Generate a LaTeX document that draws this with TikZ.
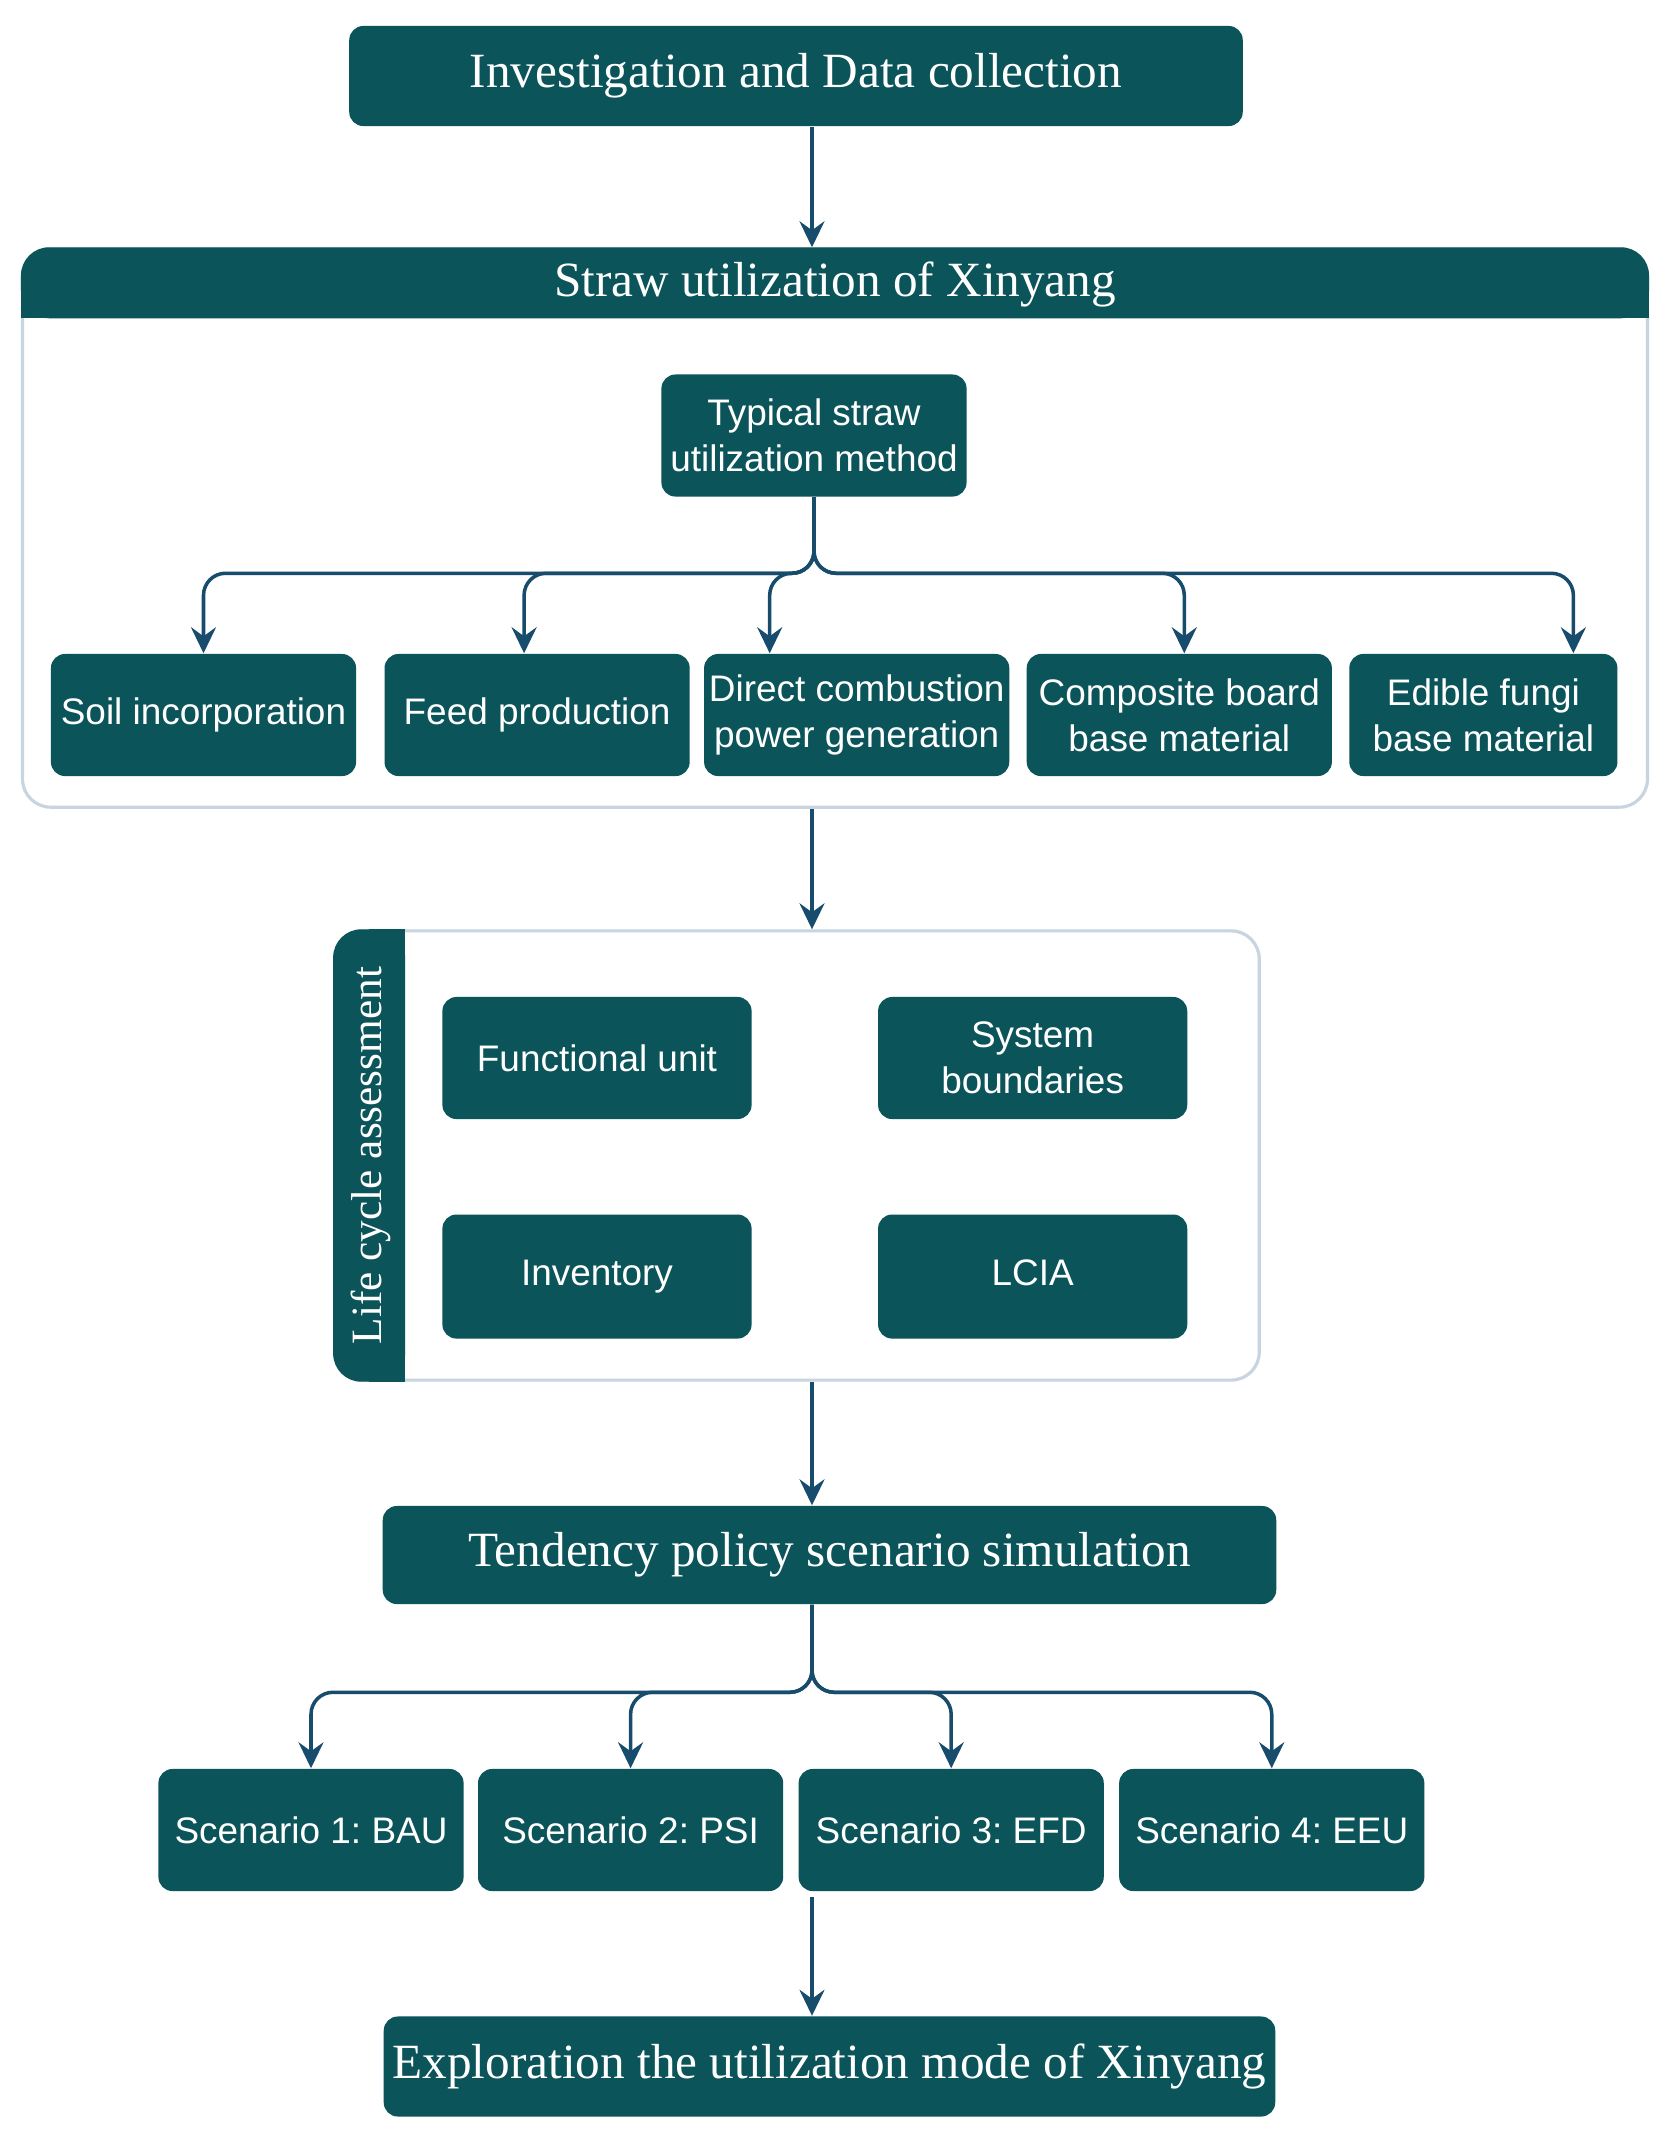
\documentclass[tikz,border=0pt]{standalone}
\usepackage{fontspec}
\setmainfont{Liberation Serif}
\setsansfont{Liberation Sans}
\usetikzlibrary{arrows.meta,positioning,calc}
\definecolor{boxteal}{RGB}{11,84,90}
\definecolor{arrowblue}{RGB}{24,76,108}
\definecolor{framegrey}{RGB}{200,212,224}
\frenchspacing

\begin{document}
\begin{tikzpicture}[x=0.01cm, y=-0.01cm,
  titlebox/.style={rectangle, fill=boxteal, text=white, rounded corners=4pt, minimum width=8.93cm, minimum height=1cm, inner sep=1pt, align=center, font=\fontsize{14}{16}\selectfont},
  itembox/.style={rectangle, fill=boxteal, text=white, rounded corners=4pt, minimum width=3.05cm, minimum height=1.22cm, inner sep=1pt, align=center, font=\sffamily\fontsize{10.5}{13.2}\selectfont},
  groupframe/.style={rectangle, draw=framegrey, line width=0.9pt, fill=white, rounded corners=8pt},
  arr/.style={-{Stealth[length=2.6mm, width=2.5mm, inset=0.9mm]}, line width=1pt, arrowblue},
  branch/.style={arr, rounded corners=2.2mm}]

\path[use as bounding box, fill=white] (0,0) rectangle (1666,2150);
\coordinate (axis) at (812,0);

% data collection
\node[titlebox] (inv) at (796,76) {Investigation and Data collection};

% straw utilization group
\node[groupframe, minimum width=16.24cm, minimum height=5.58cm] (straw) at (835,528) {};
\fill[boxteal, rounded corners=8pt] (straw.north west) rectangle ($(straw.north east)+(0,71)$);
\fill[boxteal] ($(straw.north west)+(0,35)$) rectangle ($(straw.north east)+(0,71)$);
\node[text=white, font=\fontsize{14}{16}\selectfont] (strawhead) at ($(straw.north)+(0,37)$) {Straw utilization of Xinyang};

\node[itembox] (typ) at (814,435.5) {Typical straw\\utilization method};

\node[itembox] (soil) at (203.5,715) {Soil incorporation};
\node[itembox, right=0.27cm of soil] (feed) {Feed production};
\node[itembox, right=0.13cm of feed] (direct) {Direct combustion\\power generation};
\node[itembox, right=0.16cm of direct] (composite) {Composite board\\base material};
\node[itembox, right=0.16cm of composite, minimum width=2.68cm] (edible) {Edible fungi\\base material};

\foreach \t/\dx in {soil/0, feed/-13, direct/-87, composite/5, edible/90}
  \draw[branch] (typ.south) |- ($(\t.north)+(\dx,-80)$) -- ($(\t.north)+(\dx,0)$);

% life cycle assessment group
\node[groupframe, minimum width=9.24cm, minimum height=4.49cm] (lca) at (797,1155.5) {};
\fill[boxteal, rounded corners=8pt] (lca.north west) rectangle ($(lca.south west)+(72,0)$);
\fill[boxteal] ($(lca.north west)+(36,0)$) rectangle ($(lca.south west)+(72,0)$);
\node[rotate=90, text=white, font=\fontsize{12.3}{14}\selectfont] (lcahead) at ($(lca.west)+(38,0)$) {Life cycle assessment};

\node[itembox, minimum width=3.09cm] (func) at (597,1058) {Functional unit};
\node[itembox, minimum width=3.09cm, right=1.25cm of func] (sysb) {System\\boundaries};
\node[itembox, minimum width=3.09cm, minimum height=1.24cm, below=0.94cm of func] (invent) {Inventory};
\node[itembox, minimum width=3.09cm, minimum height=1.24cm, right=1.25cm of invent] (lcia) {LCIA\vphantom{y}};

% scenarios
\node[titlebox, minimum height=0.98cm] (tend) at (829.5,1555) {Tendency policy scenario simulation};

\node[itembox] (s1) at (311,1830) {Scenario 1: BAU};
\node[itembox, right=0.13cm of s1] (s2) {Scenario 2: PSI};
\node[itembox, right=0.14cm of s2] (s3) {Scenario 3: EFD};
\node[itembox, right=0.14cm of s3] (s4) {Scenario 4: EEU};

\foreach \t in {s1, s2, s3, s4}
  \draw[branch] (tend.south -| axis) |- ($(\t.north)+(0,-76)$) -- (\t.north);

\node[titlebox, minimum width=8.91cm] (expl) at (829.5,2066.5) {Exploration the utilization mode of Xinyang};

% main flow
\draw[arr] (inv.south -| axis) -- (straw.north -| axis);
\draw[arr] (straw.south -| axis) -- (lca.north -| axis);
\draw[arr] (lca.south -| axis) -- (tend.north -| axis);
\draw[arr] ([yshift=-1.5pt]s3.south -| axis) -- (expl.north -| axis);

\end{tikzpicture}
\end{document}
